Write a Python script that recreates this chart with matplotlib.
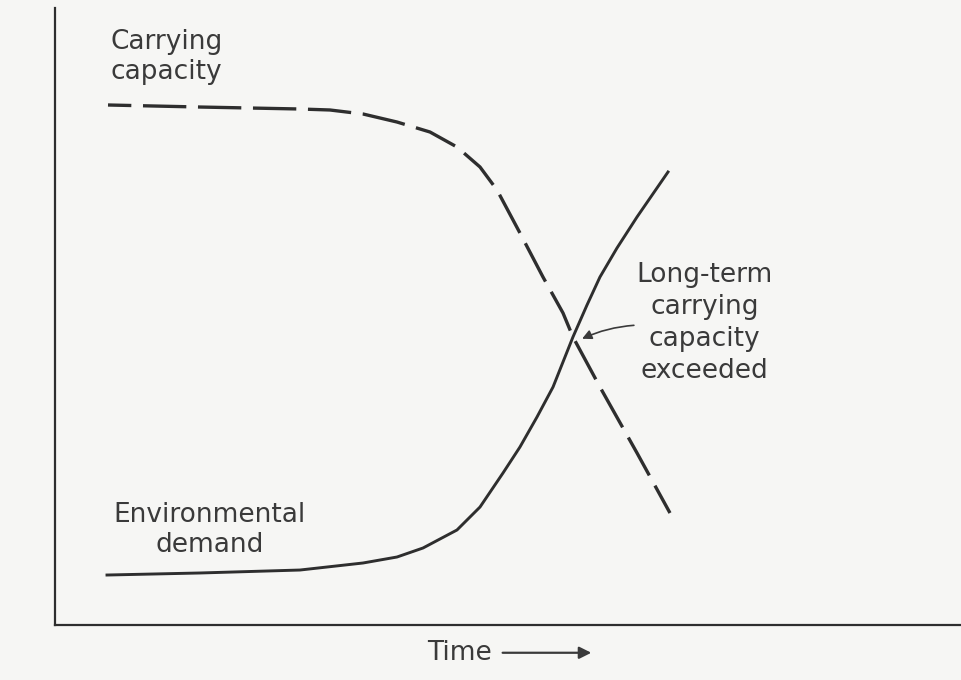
import matplotlib
matplotlib.use('Agg')
from matplotlib import pyplot as plt

# Values (time on x, level on y, arbitrary 0-10 scale)
CAPACITY_TIME = [0.585, 1.600, 2.704, 3.035, 3.400, 3.775, 4.139, 4.437,
                 4.691, 4.879, 5.132, 5.386, 5.607, 5.717, 6.015, 6.424,
                 6.788]
CAPACITY_LEVEL = [8.428, 8.395, 8.363, 8.347, 8.282, 8.152, 7.990, 7.747,
                  7.423, 7.050, 6.353, 5.640, 5.057, 4.668, 3.857, 2.788,
                  1.815]

DEMAND_TIME = [0.574, 1.600, 2.704, 3.400, 3.775, 4.062, 4.437, 4.691,
               4.945, 5.132, 5.320, 5.497, 5.717, 5.872, 6.015, 6.203,
               6.424, 6.766]
DEMAND_LEVEL = [0.810, 0.843, 0.891, 1.005, 1.102, 1.248, 1.540, 1.912,
                2.464, 2.885, 3.371, 3.857, 4.668, 5.186, 5.640, 6.110,
                6.613, 7.342]

INK = '#3a3a3a'
LINE = '#2e2e2e'
PAPER = '#f6f6f4'

fig = plt.figure(figsize=(9.61, 6.80), dpi=100, facecolor=PAPER)
ax = fig.add_axes([55 / 961, 55 / 680, 906 / 961, 617 / 680])
ax.set_facecolor(PAPER)
ax.set_xlim(0, 10)
ax.set_ylim(0, 10)

for side in ['top', 'right']:
    ax.spines[side].set_visible(False)
for side in ['left', 'bottom']:
    ax.spines[side].set_linewidth(1.6)
    ax.spines[side].set_color(LINE)
ax.set_xticks([])
ax.set_yticks([])

ax.plot(CAPACITY_TIME, CAPACITY_LEVEL, color=LINE, lw=2.4,
        linestyle=(6, (13, 3.5)), solid_joinstyle='round')
ax.plot(DEMAND_TIME, DEMAND_LEVEL, color=LINE, lw=2.1,
        solid_joinstyle='round')

txt = dict(fontsize=19, color=INK, family='DejaVu Sans', linespacing=1.2)
ax.text(0.61, 9.21, 'Carrying\ncapacity', ha='left', va='center', **txt)
ax.text(1.71, 1.54, 'Environmental\ndemand', ha='center', va='center',
        multialignment='center', **txt)
ax.text(7.17, 4.89, 'Long-term\ncarrying\ncapacity\nexceeded',
        ha='center', va='center', multialignment='center',
        fontsize=19, color=INK, family='DejaVu Sans', linespacing=1.3)

# pointer to the crossing point
ax.annotate('', xy=(5.79, 4.62), xytext=(6.42, 4.86),
            arrowprops=dict(arrowstyle='-|>', color=INK, lw=1.2,
                            mutation_scale=14,
                            connectionstyle='arc3,rad=0.1'))

# time label under the axis
ax.text(4.11, -0.45, 'Time', ha='left', va='center', clip_on=False, **txt)
ax.annotate('', xy=(5.95, -0.45), xytext=(4.91, -0.45),
            annotation_clip=False,
            arrowprops=dict(arrowstyle='-|>', color=INK, lw=1.6,
                            mutation_scale=18))

fig.savefig('out.png', dpi=100, facecolor=PAPER)
